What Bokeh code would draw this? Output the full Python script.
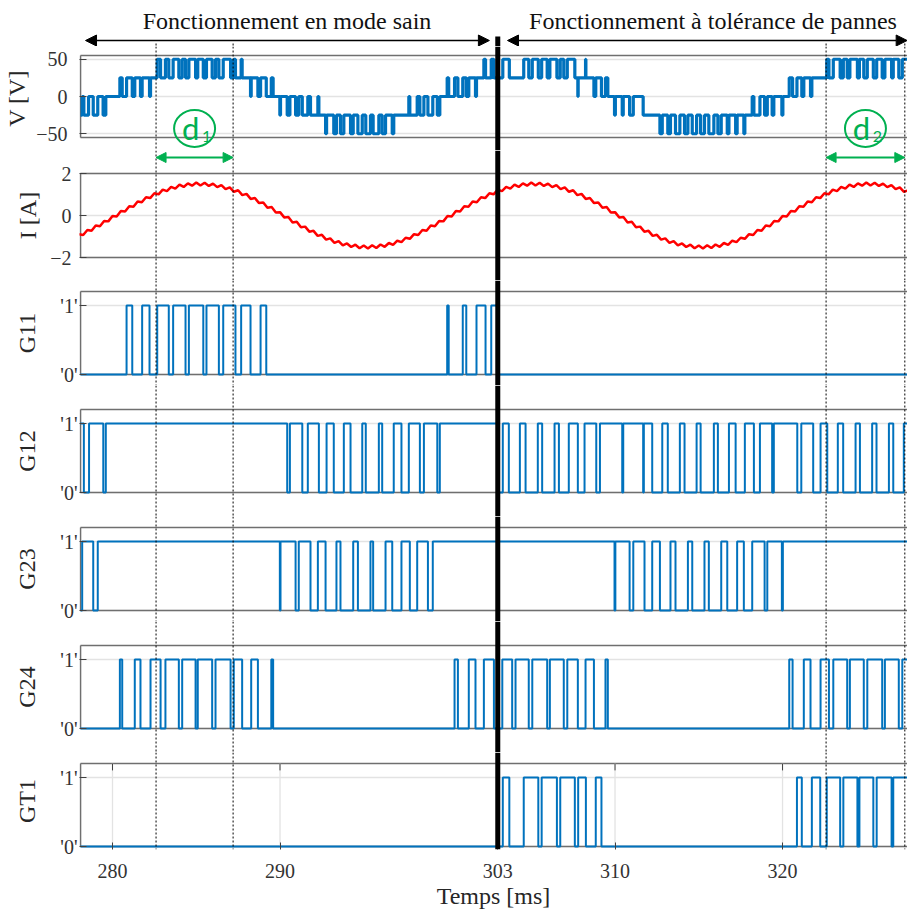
from bokeh.plotting import figure
from bokeh.layouts import column
from bokeh.models import Range1d, LinearAxis, FixedTicker, Grid, Span, Arrow, NormalHead
from bokeh.core.properties import value
from bokeh.embed import file_html
from bokeh.resources import INLINE

# ---------------- data (times in ms) ----------------
T_START, T_END = 278.09, 327.46
FAULT_T = 303.0
D1 = [282.6, 287.2]
D2 = [322.6, 327.3]
X_TICKS = [280, 290, 303, 310, 320]
MODE_TITLES = ["Fonctionnement en mode sain", "Fonctionnement à tolérance de pannes"]
MODE_TITLE_X = [290.42, 315.85]
MODE_ARROWS = [(278.39, 302.5), (303.58, 327.44)]
PANEL_LABELS = ["V [V]", "I [A]", "G11", "G12", "G23", "G24", "GT1"]

V_t = [278.09, 278.19, 278.29, 278.57, 278.85, 279.12, 279.44, 279.60,
       280.44, 280.58, 280.84, 281.18, 281.33, 281.67, 281.77, 282.21, 282.27, 282.67, 282.87, 283.16,
       283.36, 283.62, 283.96, 284.16, 284.36, 284.56, 284.96, 285.09, 285.42, 285.61, 285.95, 286.15,
       286.35, 286.61, 287.05, 287.24, 287.34, 287.68, 287.74, 288.24, 288.28, 288.68, 288.84, 289.18,
       289.48, 289.59,
       289.99, 290.03, 290.43, 290.59, 290.93, 291.12, 291.33, 291.66, 291.82, 292.26, 292.32, 292.72,
       292.78, 293.21, 293.37, 293.61, 293.81, 294.21, 294.37, 294.65, 294.91, 295.12, 295.40, 295.56,
       295.90, 296.10, 296.30, 296.70, 296.79, 297.69, 297.75, 298.19, 298.35, 298.59, 298.83, 299.12,
       299.39, 299.54,
       299.98, 300.07, 300.42, 300.62, 300.91, 301.12, 301.27, 301.67, 301.73, 302.17, 302.27, 302.61,
       302.77, 303.00,
       303.27, 303.30, 303.69, 303.86, 304.06, 304.55, 304.85, 305.06, 305.42, 305.62, 305.95, 306.11,
       306.53, 306.73, 306.94, 307.15, 307.60, 307.78, 307.80, 308.24, 308.26, 308.74, 308.85, 309.19,
       309.43, 309.57,
       309.97, 310.02, 310.43, 310.49, 310.87, 311.09, 311.68, 312.68, 312.82, 313.15, 313.31, 313.61,
       313.87, 314.15, 314.35, 314.61, 314.87, 315.11, 315.34, 315.60, 315.90, 316.14, 316.34, 316.70,
       316.80, 317.20, 317.29, 317.69, 317.75, 318.19, 318.29, 318.65, 318.93, 319.09, 319.38, 319.48,
       319.96, 320.02,
       320.40, 320.60, 320.86, 321.15, 321.27, 321.67, 321.75, 322.64, 322.77, 323.03, 323.44, 323.63,
       323.86, 324.02, 324.47, 324.59, 324.85, 325.06, 325.42, 325.62, 325.95, 326.11, 326.51, 326.61,
       326.94, 327.15, 327.46]
V_v = [-25, 0, -25, 0, -25, 0, -25, 0,
       25, 0, 25, 0, 25, 0, 25, 0, 25, 50, 25, 50,
       25, 50, 25, 50, 25, 50, 25, 50, 25, 50, 25, 50,
       25, 50, 25, 50, 25, 50, 25, 0, 25, 0, 25, 0,
       25, 0,
       -25, 0, -25, 0, -25, 0, -25, 0, -25, 0, -25, -50,
       -25, -50, -25, -50, -25, -50, -25, -50, -25, -50, -25, -50,
       -25, -50, -25, -50, -25, 0, -25, 0, -25, 0, -25, 0,
       -25, 0,
       25, 0, 25, 0, 25, 0, 25, 0, 25, 50, 25, 50,
       25, 25,
       25, 50, 25, 25, 25, 50, 25, 50, 25, 50, 25, 50,
       25, 50, 25, 50, 25, 0, 25, 50, 25, 0, 25, 0,
       25, 0,
       -25, 0, -25, 0, -25, 0, -25, -50, -25, -50, -25, -50,
       -25, -50, -25, -50, -25, -50, -25, -50, -25, -50, -25, -50,
       -25, -50, -25, -50, -25, 0, -25, 0, -25, 0, -25, 0,
       -25, 0,
       25, 0, 25, 0, 25, 0, 25, 50, 25, 50, 25, 50,
       25, 50, 25, 50, 25, 50, 25, 50, 25, 50, 25, 50,
       25, 50, 50]

# current read every 0.25 ms from 278.0 ms (with switching ripple)
I_v = [-0.89, -0.93, -0.69, -0.73, -0.48, -0.51, -0.26, -0.28, -0.02, -0.05,
       0.21, 0.19, 0.44, 0.42, 0.67, 0.63, 0.87, 0.83, 1.06, 1.01,
       1.23, 1.16, 1.36, 1.28, 1.47, 1.36, 1.53, 1.42, 1.57, 1.43,
       1.56, 1.41, 1.52, 1.35, 1.45, 1.26, 1.34, 1.13, 1.20, 0.97,
       1.03, 0.79, 0.83, 0.59, 0.62, 0.37, 0.40, 0.14, 0.16, -0.09,
       -0.07, -0.33, -0.30, -0.56, -0.53, -0.77, -0.73, -0.97, -0.92, -1.15,
       -1.09, -1.30, -1.22, -1.42, -1.33, -1.50, -1.39, -1.56, -1.43, -1.57,
       -1.42, -1.55, -1.38, -1.49, -1.31, -1.40, -1.20, -1.27, -1.06, -1.11,
       -0.89, -0.93, -0.69, -0.73, -0.48, -0.51, -0.26, -0.28, -0.02, -0.05,
       0.21, 0.19, 0.44, 0.42, 0.67, 0.63, 0.87, 0.83, 1.06, 1.01,
       1.23, 1.16, 1.36, 1.28, 1.47, 1.36, 1.53, 1.42, 1.57, 1.43,
       1.56, 1.41, 1.52, 1.35, 1.45, 1.26, 1.34, 1.13, 1.20, 0.97,
       1.03, 0.79, 0.83, 0.59, 0.62, 0.37, 0.40, 0.14, 0.16, -0.09,
       -0.07, -0.33, -0.30, -0.56, -0.53, -0.77, -0.73, -0.97, -0.92, -1.15,
       -1.09, -1.30, -1.22, -1.42, -1.33, -1.50, -1.39, -1.56, -1.43, -1.57,
       -1.42, -1.55, -1.38, -1.49, -1.31, -1.40, -1.20, -1.27, -1.06, -1.11,
       -0.89, -0.93, -0.69, -0.73, -0.48, -0.51, -0.26, -0.28, -0.02, -0.05,
       0.21, 0.19, 0.44, 0.42, 0.67, 0.63, 0.87, 0.83, 1.06, 1.01,
       1.23, 1.16, 1.36, 1.28, 1.47, 1.36, 1.53, 1.42, 1.57, 1.43,
       1.56, 1.41, 1.52, 1.35, 1.45, 1.26, 1.34, 1.13, 1.20]
I_t = [278.0 + 0.25 * k for k in range(len(I_v))]

# gate signals: initial state and switching instants
G11_init = 0
G11_edges = [280.84, 281.18, 281.77, 282.21, 282.67, 283.36, 283.62, 284.36, 284.56, 285.42,
             285.61, 286.35, 286.61, 287.34, 287.68, 288.24, 288.84, 289.18,
             299.98, 300.07, 300.91, 301.12, 301.73, 302.27, 302.61, 303.00]
G12_init = 1
G12_edges = [278.29, 278.60, 279.45, 279.60,
             290.43, 290.59, 291.33, 291.66, 292.32, 292.78, 293.21, 293.81, 294.21, 294.91,
             295.12, 295.90, 296.10, 296.79, 297.25, 297.69, 298.35, 298.59, 299.39, 299.54,
             303.00, 303.30, 303.66, 304.32, 304.66, 305.39, 305.65, 306.39, 306.65, 307.24,
             307.78, 308.18, 308.88, 309.10, 310.43, 310.49, 311.68, 311.72, 312.22, 312.82,
             313.15, 313.87, 314.15, 314.87, 315.11, 315.90, 316.14, 316.80, 317.20, 317.75,
             318.29, 318.65, 319.38, 319.48, 320.88, 321.12, 321.83, 322.27, 322.67, 323.30,
             323.62, 324.36, 324.62, 325.35, 325.61, 326.35, 326.61, 327.24]
G23_init = 0
G23_edges = [278.19, 278.85, 279.12,
             289.99, 290.03, 290.93, 291.12, 291.82, 292.26, 292.72, 293.37, 293.61, 294.37,
             294.65, 295.40, 295.56, 296.30, 296.70, 297.25, 297.75, 298.19, 298.83, 299.12,
             309.97, 310.02, 310.87, 311.09, 311.76, 312.22, 312.68, 313.31, 313.61, 314.35,
             314.61, 315.34, 315.60, 316.34, 316.70, 317.29, 317.69, 318.19, 318.93, 319.09,
             319.96, 320.02]
G24_init = 0
G24_edges = [280.44, 280.58, 281.33, 281.67, 282.27, 282.87, 283.16, 283.96, 284.16, 284.96,
             285.09, 285.95, 286.15, 287.05, 287.24, 287.74, 288.28, 288.68, 289.48, 289.59,
             300.42, 300.62, 301.27, 301.67, 302.17, 302.77, 303.27, 303.86, 304.06, 304.85,
             305.06, 305.95, 306.11, 306.94, 307.15, 307.78, 308.24, 308.74, 309.43, 309.57,
             320.40, 320.60, 321.27, 321.67, 322.27, 322.77, 323.03, 323.86, 324.02, 324.85,
             325.06, 325.95, 326.11, 326.94, 327.15]
GT1_init = 0
GT1_edges = [303.30, 303.69, 304.55, 305.42, 305.62, 306.53, 306.73, 307.60, 307.80, 308.26,
             308.85, 309.19,
             320.86, 321.15, 321.75, 322.25, 322.64, 323.44, 323.63, 324.47, 324.59, 325.42,
             325.62, 326.51, 326.61]

# ---------------- styling ----------------
BLUE = "#0072BD"
RED = "#FF0000"
GREEN = "#00B050"
BOX = "#6f6f6f"
GRIDC = "#e3e3e3"
TXT = "#262626"
SERIF = "Liberation Serif"

XR = Range1d(278.03, T_END)
PLOT_W = 907
LEFT_B = 79


def steps(init, edges):
    xs, ys, lv = [T_START], [init], init
    for t in edges:
        lv = 1 - lv
        xs.append(t)
        ys.append(lv)
    xs.append(T_END)
    ys.append(lv)
    return xs, ys


def make_fig(height, yr, bottom=0):
    p = figure(width=PLOT_W, height=height, x_range=XR, y_range=yr,
               output_backend="svg", toolbar_location=None,
               x_axis_location=None, y_axis_location=None,
               min_border_left=LEFT_B, min_border_right=0,
               min_border_top=0, min_border_bottom=bottom)
    p.center = []
    p.outline_line_color = None
    p.background_fill_color = "white"
    p.border_fill_color = "white"
    return p


def panel(label, ft, fb, bt, bb, vt, vb, ticks, overrides, standoff, label_standoff, bottom=0):
    s = (vt - vb) / (bb - bt)
    yr = Range1d(vb - (fb - bb) * s, vt + (bt - ft) * s)
    p = make_fig(fb - ft + bottom, yr, bottom)
    ax = LinearAxis(ticker=FixedTicker(ticks=ticks), major_label_overrides=overrides,
                    axis_line_color=None, major_tick_in=7, major_tick_out=0,
                    major_tick_line_color="#404040", minor_tick_line_color=None,
                    major_label_standoff=standoff,
                    major_label_text_font=SERIF, major_label_text_font_size="20px",
                    major_label_text_color="#333333",
                    axis_label=label, axis_label_standoff=label_standoff,
                    axis_label_text_font=SERIF, axis_label_text_font_size="24px",
                    axis_label_text_font_style="normal", axis_label_text_color=TXT)
    p.add_layout(ax, "left")
    p.add_layout(Grid(dimension=1, ticker=FixedTicker(ticks=ticks),
                      grid_line_color=GRIDC, grid_line_width=1.3))
    p.segment(x0=[T_START, T_START, T_START], y0=[vb, vt, vb],
              x1=[T_END, T_END, T_START], y1=[vb, vt, vt],
              line_color=BOX, line_width=1.6)
    return p, (lambda py: vb + (bb - py) * s)


# header with mode titles and arrows (page y 0 -> 46)
HDR_H = 46
hy = lambda py: (HDR_H - py) / HDR_H
hdr = make_fig(HDR_H, Range1d(0, 1))
hdr.text(x=MODE_TITLE_X, y=[hy(20)] * 2, text=MODE_TITLES, text_align="center",
         text_baseline="middle", text_font=value(SERIF), text_font_size="24px",
         text_color="#111111")
for xa, xb in MODE_ARROWS:
    hdr.add_layout(Arrow(start=NormalHead(size=11, fill_color="black", line_color="black"),
                         end=NormalHead(size=11, fill_color="black", line_color="black"),
                         x_start=xa, y_start=hy(40), x_end=xb, y_end=hy(40),
                         line_color="black", line_width=1.5))
hdr.segment(x0=[FAULT_T], y0=[hy(36)], x1=[FAULT_T], y1=[-0.2], line_color="black", line_width=5)
dx = D1 + D2
hdr.segment(x0=dx, y0=[hy(43)] * 4, x1=dx, y1=[-0.2] * 4, line_color="black",
            line_width=1, line_dash="2 2")

gate_over = {0: "'0'", 1: "'1'"}
GT = 83 / 69

pV, yV = panel(PANEL_LABELS[0], 46, 150, 55, 137, 55, -55, [-50, 0, 50], {}, 12, 3)
pV.step(V_t, V_v, mode="after", line_color=BLUE, line_width=3.2)

pI, yI = panel(PANEL_LABELS[1], 150, 280, 173, 257, 2, -2, [-2, 0, 2], {}, 8, 6)
pI.line(I_t, I_v, line_color=RED, line_width=2.5)

gates = []
for lab, (ft, fb, bt, bb), init, edges in zip(
        PANEL_LABELS[2:6],
        [(280, 385, 291, 374), (385, 516, 409, 492), (516, 621, 527, 610), (621, 752, 645, 728)],
        [G11_init, G12_init, G23_init, G24_init],
        [G11_edges, G12_edges, G23_edges, G24_edges]):
    g, _ = panel(lab, ft, fb, bt, bb, GT, 0, [0, 1], gate_over, 2, 17)
    xs, ys = steps(init, edges)
    g.step(xs, ys, mode="after", line_color=BLUE, line_width=2)
    gates.append(g)

pT, yT = panel(PANEL_LABELS[6], 752, 849, 763, 846, GT, 0, [0, 1], gate_over, 2, 17, bottom=63)
# vertical grid and top tick marks only in the last panel
pT.segment(x0=X_TICKS, y0=[0] * 5, x1=X_TICKS, y1=[GT] * 5, line_color=GRIDC, line_width=1.3)
pT.segment(x0=X_TICKS, y0=[GT] * 5, x1=X_TICKS, y1=[GT - 0.1] * 5, line_color="#404040", line_width=1)
xs, ys = steps(GT1_init, GT1_edges)
pT.step(xs, ys, mode="after", line_color=BLUE, line_width=2)
xax = LinearAxis(ticker=FixedTicker(ticks=X_TICKS), axis_label="Temps [ms]",
                 axis_line_color=None, major_tick_in=7, major_tick_out=0,
                 major_tick_line_color="#404040", minor_tick_line_color=None,
                 major_label_standoff=14, axis_label_standoff=2,
                 major_label_text_font=SERIF, major_label_text_font_size="20px",
                 major_label_text_color="#333333",
                 axis_label_text_font=SERIF, axis_label_text_font_size="24px",
                 axis_label_text_font_style="normal", axis_label_text_color=TXT)
pT.add_layout(xax, "below")

panels = [pV, pI] + gates + [pT]
for p in panels:
    p.add_layout(Span(location=FAULT_T, dimension="height", line_color="black", line_width=5))
    for d in dx:
        p.add_layout(Span(location=d, dimension="height", line_color="black",
                          line_width=1, line_dash="2 2"))

# d1 / d2 markers
mids = [(D1[0] + D1[1]) / 2, (D2[0] + D2[1]) / 2]
yc = yV(128)
pV.ellipse(x=mids, y=[yc, yc], width=41, height=37, width_units="screen",
           height_units="screen", fill_color=None, line_color=GREEN, line_width=2)
pV.text(x=mids, y=[yc, yc], text=["d", "d"], x_offset=-4, y_offset=-1,
        text_align="center", text_baseline="middle", text_font=value("Lato"),
        text_font_size="31px", text_color=GREEN)
pV.text(x=mids, y=[yc, yc], text=["1", "2"], x_offset=12, y_offset=8,
        text_align="center", text_baseline="middle", text_font=value("Lato"),
        text_font_size="16px", text_color=GREEN)
ya = yI(157)
for a, b in [D1, D2]:
    pI.add_layout(Arrow(start=NormalHead(size=10, fill_color=GREEN, line_color=GREEN),
                        end=NormalHead(size=10, fill_color=GREEN, line_color=GREEN),
                        x_start=a, y_start=ya, x_end=b, y_end=ya,
                        line_color=GREEN, line_width=2))

layout = column(hdr, *panels)
open("out.html", "w").write(file_html(layout, INLINE))
